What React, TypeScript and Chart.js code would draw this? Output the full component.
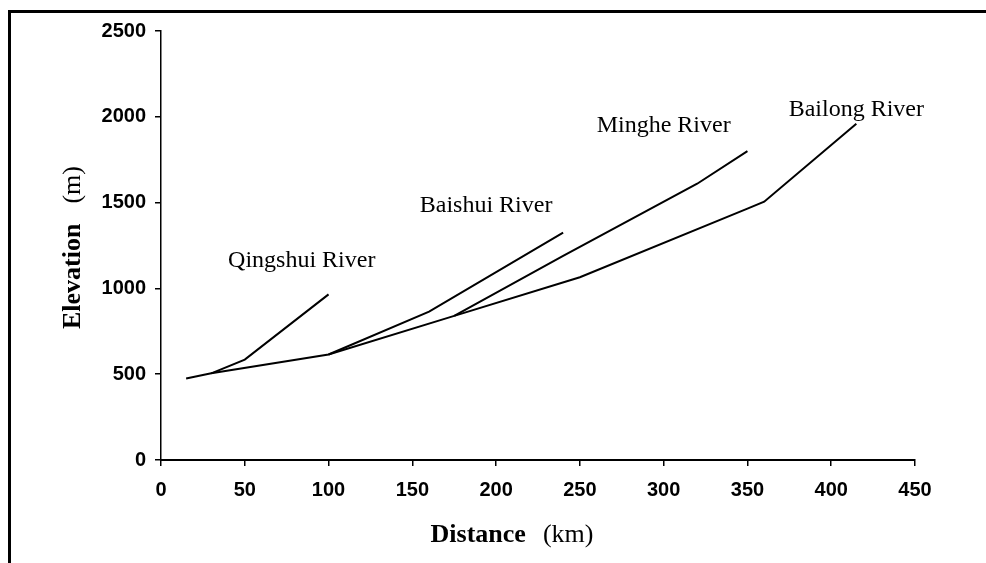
import { useEffect, useRef } from "react";
import { Chart, registerables } from "chart.js";

Chart.register(...registerables);

// Longitudinal river profiles: distance (km) vs elevation (m)
const bailongKm = [15, 30, 100, 175, 250, 350, 360, 415];
const bailongElev = [475, 505, 615, 840, 1065, 1465, 1505, 1960];
const qingshuiKm = [30, 50, 100];
const qingshuiElev = [505, 585, 965];
const baishuiKm = [100, 160, 240];
const baishuiElev = [615, 865, 1325];
const mingheKm = [175, 240, 320, 350];
const mingheElev = [840, 1190, 1610, 1800];

const xTicks = [0, 50, 100, 150, 200, 250, 300, 350, 400, 450];
const yTicks = [0, 500, 1000, 1500, 2000, 2500];

const riverNames = ["Qingshui River", "Baishui River", "Minghe River", "Bailong River"];
const labelKm = [84, 194, 300, 415];
const labelElev = [1125, 1447, 1913, 2005];

const xTitleBold = "Distance";
const xTitleUnit = "(km)";
const yTitleBold = "Elevation";
const yTitleUnit = "(m)";

const toPoints = (xs: number[], ys: number[]) => xs.map((x, i) => ({ x, y: ys[i] }));

const W = 986;
const H = 563;

const textPlugin = {
  id: "riverTexts",
  afterDraw(chart: any) {
    const { ctx, chartArea } = chart;
    const xs = chart.scales.x;
    const ys = chart.scales.y;
    ctx.save();
    ctx.fillStyle = "#000";
    ctx.font = '24px "Liberation Serif"';
    ctx.textAlign = "center";
    ctx.textBaseline = "alphabetic";
    riverNames.forEach((n, i) => {
      ctx.fillText(n, xs.getPixelForValue(labelKm[i]), ys.getPixelForValue(labelElev[i]));
    });

    // x-axis title
    const gapX = 17;
    ctx.font = 'bold 26px "Liberation Serif"';
    const w1 = ctx.measureText(xTitleBold).width;
    ctx.font = '26px "Liberation Serif"';
    const w2 = ctx.measureText(xTitleUnit).width;
    const cx = chartArea.left + 351;
    const by = chartArea.bottom + 82;
    const sx = cx - (w1 + gapX + w2) / 2;
    ctx.textAlign = "left";
    ctx.font = 'bold 26px "Liberation Serif"';
    ctx.fillText(xTitleBold, sx, by);
    ctx.font = '26px "Liberation Serif"';
    ctx.fillText(xTitleUnit, sx + w1 + gapX, by);

    // y-axis title
    const gapY = 20;
    ctx.font = 'bold 26px "Liberation Serif"';
    const h1 = ctx.measureText(yTitleBold).width;
    ctx.font = '26px "Liberation Serif"';
    const h2 = ctx.measureText(yTitleUnit).width;
    ctx.translate(chartArea.left - 81, chartArea.top + 216.5);
    ctx.rotate(-Math.PI / 2);
    const sy = -(h1 + gapY + h2) / 2;
    ctx.font = 'bold 26px "Liberation Serif"';
    ctx.fillText(yTitleBold, sy, 0);
    ctx.font = '26px "Liberation Serif"';
    ctx.fillText(yTitleUnit, sy + h1 + gapY, 0);
    ctx.restore();
  },
};

export default function App() {
  const ref = useRef<HTMLCanvasElement | null>(null);

  useEffect(() => {
    if (!ref.current) return;
    const lineStyle = {
      borderColor: "#000",
      borderWidth: 2,
      pointRadius: 0,
      fill: false,
      tension: 0,
      showLine: true,
    };
    const tickFont = { family: '"Liberation Sans"', size: 20, weight: "bold" };
    const chart = new Chart(ref.current, {
      type: "scatter",
      data: {
        datasets: [
          { label: "Bailong River", data: toPoints(bailongKm, bailongElev), ...lineStyle },
          { label: "Qingshui River", data: toPoints(qingshuiKm, qingshuiElev), ...lineStyle },
          { label: "Baishui River", data: toPoints(baishuiKm, baishuiElev), ...lineStyle },
          { label: "Minghe River", data: toPoints(mingheKm, mingheElev), ...lineStyle },
        ],
      },
      options: {
        animation: false,
        responsive: false,
        layout: { padding: { top: 31, right: 71, left: 0, bottom: 0 } },
        plugins: { legend: { display: false }, tooltip: { enabled: false } },
        scales: {
          x: {
            type: "linear",
            min: 0,
            max: 450,
            afterFit: (s: any) => {
              s.height = 103;
            },
            afterBuildTicks: (s: any) => {
              s.ticks = xTicks.map((v) => ({ value: v }));
            },
            grid: { drawOnChartArea: false, drawTicks: true, tickLength: 6, color: "#000", lineWidth: 1.5 },
            border: { display: true, color: "#000", width: 2 },
            ticks: {
              color: "#000",
              padding: 12,
              maxRotation: 0,
              autoSkip: false,
              font: tickFont,
              callback: (v: any) => String(v),
            },
          },
          y: {
            type: "linear",
            min: 0,
            max: 2500,
            afterFit: (s: any) => {
              s.width = 161;
            },
            afterBuildTicks: (s: any) => {
              s.ticks = yTicks.map((v) => ({ value: v }));
            },
            grid: { drawOnChartArea: false, drawTicks: true, tickLength: 6, color: "#000", lineWidth: 1.5 },
            border: { display: true, color: "#000", width: 1.5 },
            ticks: {
              color: "#000",
              padding: 9,
              autoSkip: false,
              font: tickFont,
              callback: (v: any) => String(v),
            },
          },
        },
      },
      plugins: [textPlugin],
    } as any);
    return () => chart.destroy();
  }, []);

  return (
    <div style={{ position: "fixed", left: 0, top: 0, width: W, height: H, overflow: "hidden", background: "#fff" }}>
      <div
        style={{
          position: "absolute",
          left: 8,
          top: 10,
          width: W + 20,
          height: H + 20,
          borderLeft: "3px solid #000",
          borderTop: "3px solid #000",
          boxSizing: "border-box",
        }}
      />
      <canvas ref={ref} width={W} height={H} style={{ position: "absolute", left: 0, top: 0, width: W, height: H }} />
    </div>
  );
}
